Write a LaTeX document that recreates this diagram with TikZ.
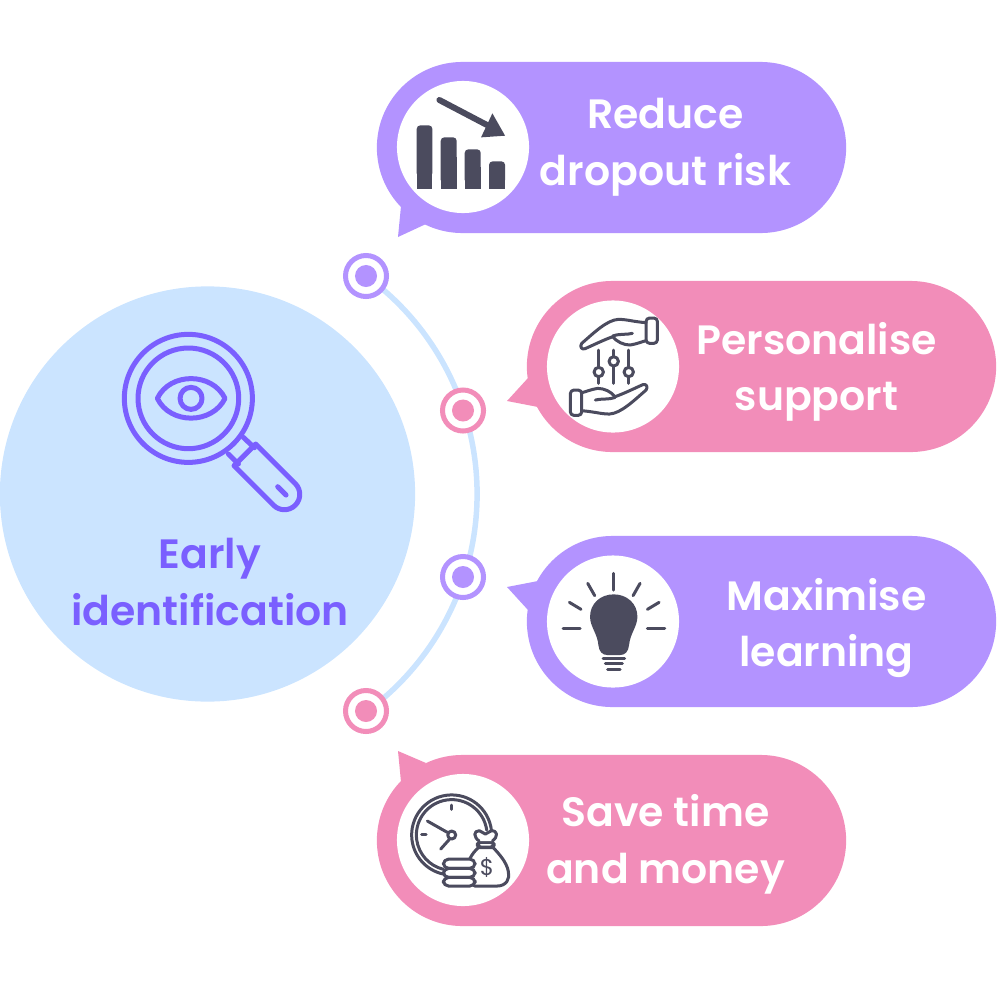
\documentclass[tikz,border=0pt]{standalone}
\usepackage{fontspec}
\setmainfont{Poppins}[BoldFont={Poppins SemiBold}]
\usetikzlibrary{shapes.misc}
\definecolor{lilac}{HTML}{B393FF}
\definecolor{rose}{HTML}{F28DB9}
\definecolor{slate}{HTML}{4B4B5E}
\definecolor{iris}{HTML}{7A5FFF}
\definecolor{sky}{HTML}{CBE4FF}
\tikzset{
  bubble/.style={shape=rounded rectangle, minimum width=4.69cm, minimum height=1.71cm, inner sep=0pt},
  disc/.style={shape=circle, fill=white, minimum size=1.32cm, inner sep=0pt},
  ring/.style={shape=circle, fill=white, line width=0.05cm, minimum size=0.41cm, inner sep=0pt},
  dot/.style={shape=circle, minimum size=0.22cm, inner sep=0pt},
  lbl/.style={align=center, text=white, font=\fontsize{11.65pt}{16.1pt}\selectfont\bfseries},
  iconline/.style={draw=slate, line width=0.03cm, line cap=round, line join=round},
  lens/.style={draw=iris, line width=0.05cm, line cap=round, line join=round},
  zoomed/.style={x=0.03333mm, y=-0.03333mm}
}
\newcommand{\handshape}{%
  \draw[iconline, fill=white, rounded corners=1pt] (648,84) rectangle (682,160);
  \draw[iconline] (648,98) .. controls (610,95) and (590,88) .. (565,88)
    .. controls (530,90) and (490,130) .. (455,160)
    .. controls (448,170) and (455,180) .. (465,176)
    .. controls (490,165) and (520,150) .. (548,140)
    .. controls (560,155) and (580,165) .. (600,165)
    .. controls (620,162) and (635,155) .. (648,152);
  \draw[iconline] (548,138) .. controls (570,130) and (590,135) .. (607,130);
}

\begin{document}
\begin{tikzpicture}[x=0.01cm, y=-0.01cm]
  \useasboundingbox (0,0) rectangle (1000,1000);

  % centre
  \node at (207.5,494) (early) [shape=circle, fill=sky, minimum size=4.15cm, inner sep=0pt] {};
  \node at (210,582) (earlytxt) [lbl, text=iris] {Early\\identification};

  % connector
  \coordinate (arcstart) at (366,276);
  \draw[sky, line width=0.055cm] (arcstart) arc[start angle=-54, end angle=54, radius=269.5];

  \node at (366,276) (ringa) [ring, draw=lilac] {};
  \node at (ringa) (dota) [dot, fill=lilac] {};
  \node at (463,410.5) (ringb) [ring, draw=rose] {};
  \node at (ringb) (dotb) [dot, fill=rose] {};
  \node at (463,577) (ringc) [ring, draw=lilac] {};
  \node at (ringc) (dotc) [dot, fill=lilac] {};
  \node at (366,711) (ringd) [ring, draw=rose] {};
  \node at (ringd) (dotd) [dot, fill=rose] {};

  % bubbles
  \fill[lilac] (401,206) -- (398,237) -- (426,224) -- cycle;
  \node at (611.5,147.5) (reduce) [bubble, fill=lilac] {};
  \node at (463,147) (discr) [disc] {};
  \node at (665.5,147.5) (reducetxt) [lbl] {Reduce\\dropout risk};

  \fill[rose] (528,378) -- (507,401) -- (538,407) -- cycle;
  \node at (761.5,366.5) (person) [bubble, fill=rose] {};
  \node at (613,366.5) (discp) [disc] {};
  \node at (816.5,372) (persontxt) [lbl] {Personalise\\support};

  \fill[lilac] (528,610) -- (507,587) -- (538,581) -- cycle;
  \node at (761.5,621.5) (maxim) [bubble, fill=lilac] {};
  \node at (613,621.5) (discm) [disc] {};
  \node at (826.5,628) (maximtxt) [lbl] {Maximise\\learning};

  \fill[rose] (401,782) -- (398,751) -- (426,763) -- cycle;
  \node at (611.5,840.5) (save) [bubble, fill=rose] {};
  \node at (463,840) (discs) [disc] {};
  \node at (665.5,844.5) (savetxt) [lbl] {Save time\\and money};

  % magnifier
  \begin{scope}[shift={(100,310)}, zoomed]
    \draw[lens] (265,265) circle (192);
    \draw[lens] (265,265) circle (151);
    \draw[lens] (172,265) .. controls (210,186) and (336,186) .. (375,265)
      .. controls (336,344) and (210,344) .. (172,265) -- cycle;
    \draw[lens] (273,265) circle (33);
    \draw[lens] (385,432) -- (415,462);
    \draw[lens] (430,382) -- (463,413);
    \draw[lens] (467,402) -- (402,467) -- (520.5,585.5)
      arc[start angle=135, end angle=-45, radius=46] -- cycle;
    \draw[lens] (533,530) -- (558,555);
  \end{scope}

  % chart
  \begin{scope}[shift={(330,50)}, zoomed]
    \fill[slate, rounded corners=1pt] (260,380) rectangle (307,226);
    \fill[slate] (260,418) rectangle (307,300);
    \fill[slate, rounded corners=1pt] (332,400) rectangle (380,262);
    \fill[slate] (332,418) rectangle (380,320);
    \fill[slate, rounded corners=1pt] (404,400) rectangle (452,298);
    \fill[slate] (404,418) rectangle (452,350);
    \fill[slate, rounded corners=1pt] (477,400) rectangle (525,334);
    \fill[slate] (477,418) rectangle (525,380);
    \draw[slate, line width=0.06cm, line cap=round] (328,150) -- (490,235);
    \fill[slate] (525,257) -- (487,190) -- (453,262) -- cycle;
  \end{scope}

  % hands
  \begin{scope}[shift={(430,290)}, zoomed]
    \handshape
    \begin{scope}[rotate around={180:(551.5,230)}]
      \handshape
    \end{scope}
    \draw[iconline] (506,180) -- (506,280);
    \draw[iconline] (551,180) -- (551,280);
    \draw[iconline] (596,180) -- (596,280);
    \draw[iconline, fill=white] (506,246) circle (14);
    \draw[iconline, fill=white] (551,214) circle (14);
    \draw[iconline, fill=white] (596,246) circle (14);
  \end{scope}

  % bulb
  \begin{scope}[shift={(430,545)}, zoomed]
    \draw[iconline] (551,85) -- (551,135);
    \draw[iconline] (473,115) -- (494,152);
    \draw[iconline] (630,115) -- (609,152);
    \draw[iconline] (418,172) -- (453,193);
    \draw[iconline] (687,172) -- (652,193);
    \draw[iconline] (399,251) -- (450,251);
    \draw[iconline] (652,251) -- (704,251);
    \fill[slate] (480,215) .. controls (480,175) and (512,148) .. (551,148)
      .. controls (590,148) and (622,175) .. (622,215)
      .. controls (622,245) and (600,265) .. (597,300)
      .. controls (595,320) and (585,330) .. (570,330) -- (532,330)
      .. controls (517,330) and (507,320) .. (505,300)
      .. controls (502,265) and (480,245) .. (480,215) -- cycle;
    \draw[iconline] (519,340) -- (584,340);
    \draw[iconline] (526,356) -- (577,356);
    \draw[iconline] (533,372) -- (570,372);
  \end{scope}

  % clock and money
  \begin{scope}[shift={(330,680)}, zoomed]
    \draw[iconline] (484,450) arc[start angle=-7, end angle=-258, radius=120];
    \draw[iconline] (470,450) arc[start angle=-8, end angle=-256, radius=106];
    \draw[iconline] (365,375) -- (365,388);
    \draw[iconline] (275,464) -- (288,464);
    \draw[iconline] (292,423) -- (352,457);
    \draw[iconline] (332,507) -- (358,478);
    \draw[iconline, fill=white] (365,465) circle (12);
    \draw[iconline, fill=white] (445,503) .. controls (425,520) and (410,545) .. (400,600)
      -- (435,618) -- (500,618) .. controls (530,618) and (540,595) .. (535,575)
      .. controls (530,545) and (505,520) .. (490,503) -- cycle;
    \draw[iconline, fill=white, rounded corners=1pt] (442,487) rectangle (492,501);
    \draw[iconline, fill=white] (447,483) .. controls (430,470) and (430,452) .. (448,452)
      -- (466,462) -- (484,452) .. controls (504,452) and (504,470) .. (487,483);
    \draw[iconline, fill=white, rounded corners=1.5pt] (340,537) rectangle (435,565);
    \draw[iconline, fill=white, rounded corners=1.5pt] (340,565) rectangle (435,592);
    \draw[iconline, fill=white, rounded corners=1.5pt] (340,592) rectangle (435,618);
    \node at (471,562) (dollar) [text=slate, font=\fontsize{6.5pt}{6.5pt}\selectfont, inner sep=0pt] {\$};
  \end{scope}
\end{tikzpicture}
\end{document}
